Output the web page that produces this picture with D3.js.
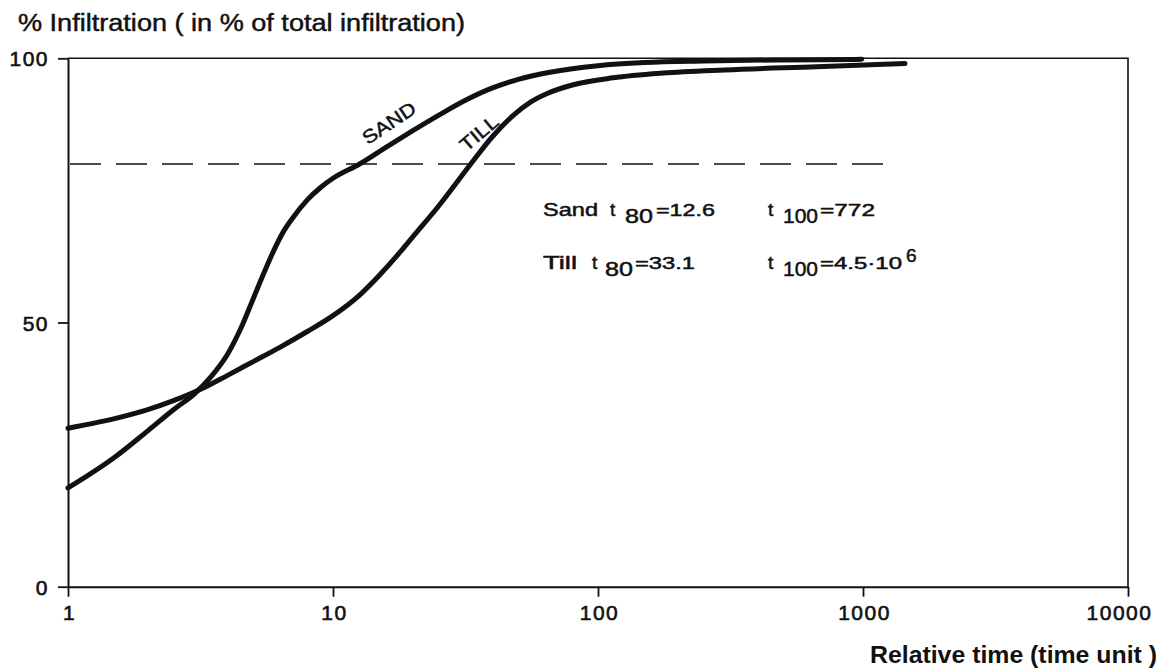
<!DOCTYPE html>
<html>
<head>
<meta charset="utf-8">
<script src="https://cdn.jsdelivr.net/npm/d3@7"></script>
<style>
  html, body { margin: 0; padding: 0; background: #fff; }
  svg { display: block; }
  text { font-family: "Liberation Sans", Arial, Helvetica, sans-serif; fill: #111; }
</style>
</head>
<body>
<svg id="chart" width="1162" height="669"></svg>
<script>
// Cumulative infiltration (% of total) against relative time, log scale
const sandTime  = [1, 1.5, 2, 2.5, 3, 3.5, 4, 4.5, 5, 5.5, 6, 6.5, 7, 8, 9, 10, 12.6, 16, 20, 25, 32, 40, 50, 65, 100, 150, 250, 500, 988];
const sandValue = [18.7, 24.5, 29.5, 33.5, 36.5, 40, 44, 49, 54.5, 59.5, 63.8, 67.2, 69.6, 73.2, 75.6, 77.3, 80, 83.3, 86.3, 89.2, 92.2, 94.4, 96, 97.3, 98.6, 99.2, 99.5, 99.7, 99.8];

const tillTime  = [1, 1.5, 2, 2.5, 3.15, 4, 5, 6.3, 8, 10, 12.6, 15, 17.9, 20, 25, 33.1, 40, 47.9, 56, 64, 80.7, 114, 176, 300, 668, 1440];
const tillValue = [30, 31.8, 33.5, 35.2, 37.3, 40, 42.6, 45.3, 48.3, 51.3, 55.2, 59, 63.3, 66.2, 72, 80, 85.2, 89.2, 91.8, 93.3, 95, 96.3, 97.2, 97.8, 98.4, 99.0];

const xTicks = [1, 10, 100, 1000, 10000];
const yTicks = [0, 50, 100];
const referenceLevel = 80;          // dashed t80 level
const referenceSpan = [1, 1200];

const yTitle = "% Infiltration ( in % of total infiltration)";
const xTitle = "Relative time (time unit )";
const curveNames = ["SAND", "TILL"];

const svg = d3.select("#chart");
const x = d3.scaleLog().domain([1, 10000]).range([68, 1128]);
const y = d3.scaleLinear().domain([0, 100]).range([586.7, 58.3]);

// frame: top and right edges
svg.append("path")
  .attr("d", `M${x(1)},${y(100)}H${x(10000)}V${y(0)}`)
  .attr("fill", "none").attr("stroke", "#111").attr("stroke-width", 1.6);

// axes
const fmt = d => String(d);
const xAxis = svg.append("g")
  .attr("transform", `translate(0,${y(0)})`)
  .call(d3.axisBottom(x).tickValues(xTicks).tickFormat(fmt).tickSize(10).tickSizeOuter(0).tickPadding(8));
const yAxis = svg.append("g")
  .attr("transform", `translate(${x(1)},0)`)
  .call(d3.axisLeft(y).tickValues(yTicks).tickFormat(fmt).tickSize(10).tickSizeOuter(0).tickPadding(9));

[xAxis, yAxis].forEach(g => {
  g.select(".domain").attr("stroke", "#111").attr("stroke-width", 2);
  g.selectAll(".tick line").attr("stroke", "#111").attr("stroke-width", 1.8);
  g.selectAll(".tick text")
    .attr("font-family", "Liberation Sans, Arial, sans-serif")
    .attr("font-size", 21).attr("letter-spacing", 1.5).attr("fill", "#111")
    .attr("stroke", "#111").attr("stroke-width", 0.6);
});
xAxis.selectAll(".tick text").attr("dy", "0.71em").attr("dx", 1);
yAxis.selectAll(".tick text").attr("dy", "0.36em");
xAxis.selectAll(".tick").filter(d => d === 10000).select("text").attr("dx", -9);

// dashed reference level
svg.append("line")
  .attr("x1", x(referenceSpan[0]) + 2).attr("x2", x(referenceSpan[1]))
  .attr("y1", y(referenceLevel)).attr("y2", y(referenceLevel))
  .attr("stroke", "#111").attr("stroke-width", 1.6)
  .attr("stroke-dasharray", "31,15");

// curves
const line = d3.line()
  .x(d => x(d[0])).y(d => y(d[1]))
  .curve(d3.curveMonotoneX);

const series = [
  d3.zip(sandTime, sandValue),
  d3.zip(tillTime, tillValue)
];
svg.selectAll("path.curve").data(series).join("path")
  .attr("class", "curve")
  .attr("d", line)
  .attr("fill", "none").attr("stroke", "#111")
  .attr("stroke-width", 5).attr("stroke-linecap", "round").attr("stroke-linejoin", "round");

// curve names written along the lines
const nameSpots = [
  { t: 16.8, v: 86.7, angle: -34, len: 60 },
  { t: 36.9, v: 84.9, angle: -40, len: 44 }
];
curveNames.forEach((name, i) => {
  const s = nameSpots[i];
  svg.append("text")
    .attr("transform", `translate(${x(s.t)},${y(s.v)}) rotate(${s.angle})`)
    .attr("text-anchor", "middle")
    .attr("font-size", 19)
    .attr("textLength", s.len).attr("lengthAdjust", "spacingAndGlyphs")
    .attr("stroke", "#111").attr("stroke-width", 0.5)
    .text(name);
});

// axis titles
svg.append("text")
  .attr("x", 18).attr("y", 31)
  .attr("font-size", 23).attr("textLength", 447).attr("lengthAdjust", "spacingAndGlyphs")
  .attr("stroke", "#111").attr("stroke-width", 0.45)
  .text(yTitle);
svg.append("text")
  .attr("x", 1157).attr("y", 663)
  .attr("text-anchor", "end")
  .attr("font-size", 23).attr("font-weight", "bold")
  .attr("textLength", 287).attr("lengthAdjust", "spacingAndGlyphs")
  .text(xTitle);

// characteristic times of each soil
const rows = [
  { name: "Sand", t80: "=12.6", t100: "=772", exp: "" },
  { name: "Till", t80: "=33.1", t100: "=4.5\u00b710", exp: "6" }
];
// per-row layout: baseline and x positions / widths of each piece
const rowLayout = [
  { base: 216, name: [543, 55], t: 610, sub: [625, 28], val: [656, 59], val2: [820, 55] },
  { base: 269, name: [543, 34], t: 592, sub: [605, 28], val: [635, 60], val2: [820, 82], exp: 906 }
];
const note = svg.append("g").attr("stroke", "#111").attr("stroke-width", 0.5);
function piece(str, px, py, size, width) {
  const t = note.append("text").attr("x", px).attr("y", py).attr("font-size", size).text(str);
  if (width) t.attr("textLength", width).attr("lengthAdjust", "spacingAndGlyphs");
  return t;
}
rows.forEach((r, i) => {
  const L = rowLayout[i];
  piece(r.name, L.name[0], L.base, 18, L.name[1]);
  piece("t", L.t, L.base, 19);
  piece("80", L.sub[0], L.base + 7, 21, L.sub[1]);
  piece(r.t80, L.val[0], L.base, 17, L.val[1]);
  piece("t", 768, L.base, 19);
  piece("100", 783, L.base + 7, 21, 35);
  piece(r.t100, L.val2[0], L.base, 17, L.val2[1]);
  if (r.exp) piece(r.exp, L.exp, L.base - 7, 19);
});
</script>
</body>
</html>
